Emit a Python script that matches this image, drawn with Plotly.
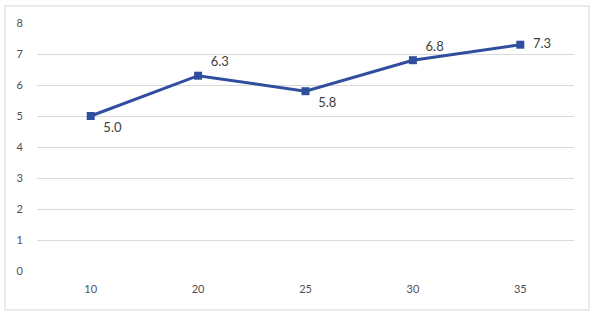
import plotly.graph_objects as go

categories = ["10", "20", "25", "30", "35"]
values = [5.0, 6.3, 5.8, 6.8, 7.3]
labels = ["5.0", "6.3", "5.8", "6.8", "7.3"]
label_pos = ["bottom right", "top right", "bottom right", "top right", "middle right"]
y_ticks = [0, 1, 2, 3, 4, 5, 6, 7, 8]

fig = go.Figure()
fig.add_trace(go.Scatter(
    x=categories, y=values, mode="lines+markers+text",
    line=dict(color="#2F4E9E", width=3),
    marker=dict(symbol="square", size=8, color="#2F4E9E"),
    text=["  " + t for t in labels], textposition=label_pos,
    textfont=dict(size=13, color="#404040", family="Lato, sans-serif"),
    cliponaxis=False, showlegend=False, hoverinfo="skip",
))

W, H = 594, 313
L, R, T, B = 37, 20, 23, 42
pw, ph = W - L - R, H - T - B
fig.add_shape(type="rect", xref="paper", yref="paper",
              x0=(5 - L) / pw, x1=(589 - L) / pw,
              y0=-(310 - (H - B)) / ph, y1=((H - B) - 6) / ph,
              line=dict(color="#E3E3E3", width=1.5), fillcolor="rgba(0,0,0,0)", layer="below")

fig.update_layout(
    width=W, height=H,
    margin=dict(l=L, r=R, t=T, b=B, autoexpand=False),
    paper_bgcolor="white", plot_bgcolor="white",
    font=dict(family="Lato, sans-serif", size=11, color="#505050"),
    xaxis=dict(type="category", range=[-0.5, len(categories) - 0.5],
               showgrid=False, showline=False, ticks="", automargin=False,
               tickfont=dict(size=11, color="#505050"), ticklabelstandoff=10),
    yaxis=dict(range=[0, 8], tickvals=y_ticks, showgrid=True, gridcolor="#D9D9D9",
               gridwidth=1, zeroline=False, showline=False, ticks="", automargin=False,
               tickfont=dict(size=11, color="#505050"), ticklabelstandoff=13),
)
fig.write_html("out.html", config={"displayModeBar": False, "staticPlot": True},
               post_script="document.body.style.margin='0';")
